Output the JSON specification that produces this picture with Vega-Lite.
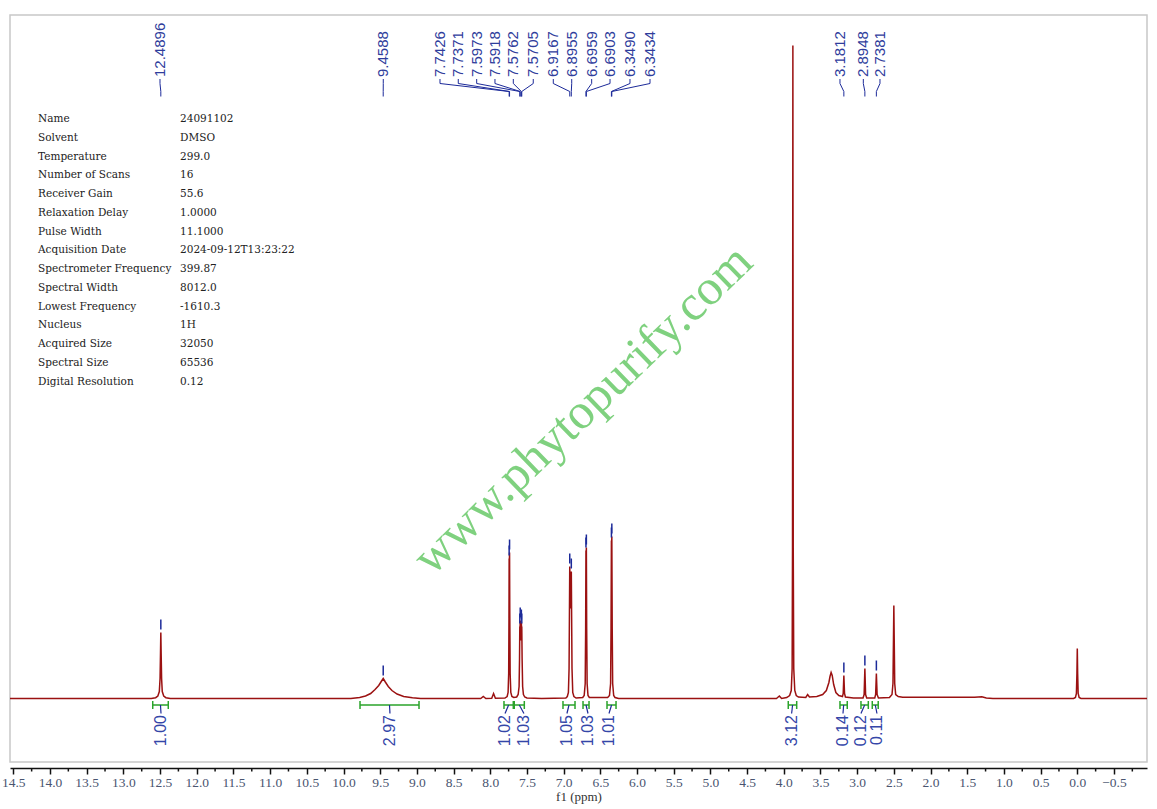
{
  "$schema": "https://vega.github.io/schema/vega-lite/v6.json",
  "width": 1137,
  "height": 747,
  "autosize": {"type": "none"},
  "padding": {"left": 10, "top": 15, "right": 10, "bottom": 47},
  "background": "white",
  "config": {
    "view": {"stroke": "#c8c8c8", "strokeWidth": 1.5},
    "axisX": {
      "format": ".1f",
      "offset": 6,
      "grid": false,
      "domainColor": "#111111", "domainWidth": 1.5,
      "tickColor": "#111111", "tickWidth": 1.5, "tickSize": 6,
      "labelFont": "Liberation Serif", "labelFontSize": 13.5, "labelColor": "#4a5570",
      "labelPadding": 1, "labelFlush": false, "labelOverlap": false, "labelBound": false,
      "titleFont": "Liberation Serif", "titleFontSize": 13,
      "titleFontWeight": "normal", "titleColor": "#333333", "titlePadding": 2
    }
  },
  "datasets": {
    "spec": [
      {"ppm": 14.545, "v": 0}, {"ppm": 12.62, "v": 0}, {"ppm": 12.56, "v": 0.8}, {"ppm": 12.53, "v": 2.5},
      {"ppm": 12.51, "v": 7}, {"ppm": 12.5, "v": 20}, {"ppm": 12.494, "v": 45}, {"ppm": 12.4896, "v": 66},
      {"ppm": 12.485, "v": 45}, {"ppm": 12.479, "v": 20}, {"ppm": 12.47, "v": 7}, {"ppm": 12.45, "v": 2.5},
      {"ppm": 12.42, "v": 0.8}, {"ppm": 12.36, "v": 0},
      {"ppm": 9.9, "v": 0}, {"ppm": 9.78, "v": 1}, {"ppm": 9.7, "v": 2.5}, {"ppm": 9.63, "v": 5},
      {"ppm": 9.57, "v": 9}, {"ppm": 9.52, "v": 13}, {"ppm": 9.49, "v": 16.5}, {"ppm": 9.4588, "v": 20},
      {"ppm": 9.43, "v": 16.5}, {"ppm": 9.39, "v": 12}, {"ppm": 9.34, "v": 8}, {"ppm": 9.27, "v": 4.5},
      {"ppm": 9.18, "v": 2}, {"ppm": 9.06, "v": 0.8}, {"ppm": 8.95, "v": 0},
      {"ppm": 8.13, "v": 0}, {"ppm": 8.095, "v": 2}, {"ppm": 8.06, "v": 0}, {"ppm": 7.98, "v": 0.3},
      {"ppm": 7.955, "v": 5}, {"ppm": 7.93, "v": 0.3},
      {"ppm": 7.8, "v": 0.5}, {"ppm": 7.77, "v": 2}, {"ppm": 7.757, "v": 6}, {"ppm": 7.749, "v": 25},
      {"ppm": 7.745, "v": 80}, {"ppm": 7.7426, "v": 140}, {"ppm": 7.74, "v": 134}, {"ppm": 7.7371, "v": 146},
      {"ppm": 7.734, "v": 85}, {"ppm": 7.729, "v": 25}, {"ppm": 7.72, "v": 6}, {"ppm": 7.705, "v": 2},
      {"ppm": 7.68, "v": 1}, {"ppm": 7.64, "v": 1.5}, {"ppm": 7.62, "v": 4}, {"ppm": 7.607, "v": 12},
      {"ppm": 7.601, "v": 40}, {"ppm": 7.5973, "v": 72}, {"ppm": 7.5945, "v": 70}, {"ppm": 7.5918, "v": 78},
      {"ppm": 7.584, "v": 58}, {"ppm": 7.5762, "v": 76}, {"ppm": 7.5733, "v": 70}, {"ppm": 7.5705, "v": 72},
      {"ppm": 7.566, "v": 40}, {"ppm": 7.559, "v": 12}, {"ppm": 7.548, "v": 4}, {"ppm": 7.53, "v": 1.5},
      {"ppm": 7.5, "v": 0.5}, {"ppm": 7.3, "v": 0},
      {"ppm": 6.97, "v": 0.5}, {"ppm": 6.95, "v": 2}, {"ppm": 6.935, "v": 6}, {"ppm": 6.926, "v": 30},
      {"ppm": 6.9167, "v": 132}, {"ppm": 6.906, "v": 90}, {"ppm": 6.8955, "v": 127}, {"ppm": 6.886, "v": 30},
      {"ppm": 6.876, "v": 6}, {"ppm": 6.86, "v": 2}, {"ppm": 6.83, "v": 0.5},
      {"ppm": 6.74, "v": 1}, {"ppm": 6.72, "v": 3}, {"ppm": 6.706, "v": 15}, {"ppm": 6.7, "v": 70},
      {"ppm": 6.6959, "v": 148}, {"ppm": 6.693, "v": 140}, {"ppm": 6.6903, "v": 151}, {"ppm": 6.686, "v": 70},
      {"ppm": 6.68, "v": 15}, {"ppm": 6.668, "v": 3}, {"ppm": 6.65, "v": 1},
      {"ppm": 6.4, "v": 1}, {"ppm": 6.375, "v": 3}, {"ppm": 6.36, "v": 15}, {"ppm": 6.354, "v": 70},
      {"ppm": 6.349, "v": 158}, {"ppm": 6.3462, "v": 150}, {"ppm": 6.3434, "v": 162}, {"ppm": 6.338, "v": 70},
      {"ppm": 6.332, "v": 15}, {"ppm": 6.318, "v": 3}, {"ppm": 6.3, "v": 1}, {"ppm": 6.25, "v": 0},
      {"ppm": 4.1, "v": 0}, {"ppm": 4.06, "v": 2.5}, {"ppm": 4.03, "v": 0},
      {"ppm": 3.96, "v": 1}, {"ppm": 3.92, "v": 3}, {"ppm": 3.898, "v": 8}, {"ppm": 3.886, "v": 30},
      {"ppm": 3.881, "v": 150}, {"ppm": 3.876, "v": 653}, {"ppm": 3.871, "v": 150}, {"ppm": 3.864, "v": 30},
      {"ppm": 3.85, "v": 8}, {"ppm": 3.83, "v": 3}, {"ppm": 3.8, "v": 1.5},
      {"ppm": 3.7, "v": 1}, {"ppm": 3.675, "v": 4}, {"ppm": 3.65, "v": 1.5},
      {"ppm": 3.55, "v": 2}, {"ppm": 3.47, "v": 4}, {"ppm": 3.42, "v": 8}, {"ppm": 3.385, "v": 16},
      {"ppm": 3.37, "v": 22}, {"ppm": 3.355, "v": 26}, {"ppm": 3.34, "v": 23}, {"ppm": 3.32, "v": 14},
      {"ppm": 3.29, "v": 6}, {"ppm": 3.25, "v": 3}, {"ppm": 3.2, "v": 2}, {"ppm": 3.19, "v": 5},
      {"ppm": 3.1812, "v": 23}, {"ppm": 3.172, "v": 5}, {"ppm": 3.16, "v": 1.5}, {"ppm": 3.05, "v": 0.5},
      {"ppm": 2.92, "v": 0.5}, {"ppm": 2.905, "v": 4}, {"ppm": 2.8948, "v": 30}, {"ppm": 2.885, "v": 4},
      {"ppm": 2.87, "v": 0.5}, {"ppm": 2.76, "v": 0.5}, {"ppm": 2.748, "v": 4}, {"ppm": 2.7381, "v": 25},
      {"ppm": 2.728, "v": 4}, {"ppm": 2.71, "v": 0.5},
      {"ppm": 2.56, "v": 1}, {"ppm": 2.525, "v": 4}, {"ppm": 2.512, "v": 15}, {"ppm": 2.505, "v": 60},
      {"ppm": 2.5, "v": 93}, {"ppm": 2.495, "v": 60}, {"ppm": 2.488, "v": 15}, {"ppm": 2.475, "v": 4},
      {"ppm": 2.44, "v": 2}, {"ppm": 2.38, "v": 1.2}, {"ppm": 1.4, "v": 1.2}, {"ppm": 1.3, "v": 1.8},
      {"ppm": 1.24, "v": 0.6}, {"ppm": 1.15, "v": 0},
      {"ppm": 0.05, "v": 0}, {"ppm": 0.025, "v": 1}, {"ppm": 0.012, "v": 5}, {"ppm": 0.005, "v": 25},
      {"ppm": 0.0, "v": 50}, {"ppm": -0.005, "v": 25}, {"ppm": -0.012, "v": 5}, {"ppm": -0.025, "v": 1},
      {"ppm": -0.05, "v": 0}, {"ppm": -0.95, "v": 0}
    ],
    "minor": [
      {"m": 14.25}, {"m": 13.75}, {"m": 13.25}, {"m": 12.75}, {"m": 12.25}, {"m": 11.75}, {"m": 11.25},
      {"m": 10.75}, {"m": 10.25}, {"m": 9.75}, {"m": 9.25}, {"m": 8.75}, {"m": 8.25}, {"m": 7.75},
      {"m": 7.25}, {"m": 6.75}, {"m": 6.25}, {"m": 5.75}, {"m": 5.25}, {"m": 4.75}, {"m": 4.25},
      {"m": 3.75}, {"m": 3.25}, {"m": 2.75}, {"m": 2.25}, {"m": 1.75}, {"m": 1.25}, {"m": 0.75},
      {"m": 0.25}, {"m": -0.25}, {"m": -0.75}
    ],
    "peaks": [
      {"t": "12.4896", "lx": 12.501, "px": 12.4896, "h": 66},
      {"t": "9.4588", "lx": 9.458, "px": 9.4588, "h": 20},
      {"t": "7.7426", "lx": 8.685, "px": 7.7426, "h": 140},
      {"t": "7.7371", "lx": 8.436, "px": 7.7371, "h": 146},
      {"t": "7.5973", "lx": 8.185, "px": 7.5973, "h": 72},
      {"t": "7.5918", "lx": 7.936, "px": 7.5918, "h": 78},
      {"t": "7.5762", "lx": 7.686, "px": 7.5762, "h": 76},
      {"t": "7.5705", "lx": 7.414, "px": 7.5705, "h": 72},
      {"t": "6.9167", "lx": 7.141, "px": 6.9167, "h": 132},
      {"t": "6.8955", "lx": 6.89, "px": 6.8955, "h": 127},
      {"t": "6.6959", "lx": 6.618, "px": 6.6959, "h": 148},
      {"t": "6.6903", "lx": 6.368, "px": 6.6903, "h": 151},
      {"t": "6.3490", "lx": 6.096, "px": 6.349, "h": 158},
      {"t": "6.3434", "lx": 5.823, "px": 6.3434, "h": 162},
      {"t": "3.1812", "lx": 3.234, "px": 3.1812, "h": 23},
      {"t": "2.8948", "lx": 2.916, "px": 2.8948, "h": 30},
      {"t": "2.7381", "lx": 2.689, "px": 2.7381, "h": 25}
    ],
    "ints": [
      {"lab": "1.00", "from": 12.6, "to": 12.388, "mid": 12.494, "lx": 12.487},
      {"lab": "2.97", "from": 9.775, "to": 8.971, "mid": 9.373, "lx": 9.367},
      {"lab": "1.02", "from": 7.813, "to": 7.686, "mid": 7.75, "lx": 7.799},
      {"lab": "1.03", "from": 7.673, "to": 7.536, "mid": 7.604, "lx": 7.541},
      {"lab": "1.05", "from": 7.009, "to": 6.845, "mid": 6.927, "lx": 6.955},
      {"lab": "1.03", "from": 6.736, "to": 6.654, "mid": 6.695, "lx": 6.668},
      {"lab": "1.01", "from": 6.409, "to": 6.286, "mid": 6.347, "lx": 6.382},
      {"lab": "3.12", "from": 3.939, "to": 3.824, "mid": 3.88, "lx": 3.893},
      {"lab": "0.14", "from": 3.234, "to": 3.135, "mid": 3.184, "lx": 3.193},
      {"lab": "0.12", "from": 2.948, "to": 2.848, "mid": 2.898, "lx": 2.948},
      {"lab": "0.11", "from": 2.794, "to": 2.713, "mid": 2.753, "lx": 2.73}
    ],
    "info": [
      {"i": 1, "k": "Name", "val": "24091102"},
      {"i": 2, "k": "Solvent", "val": "DMSO"},
      {"i": 3, "k": "Temperature", "val": "299.0"},
      {"i": 4, "k": "Number of Scans", "val": "16"},
      {"i": 5, "k": "Receiver Gain", "val": "55.6"},
      {"i": 6, "k": "Relaxation Delay", "val": "1.0000"},
      {"i": 7, "k": "Pulse Width", "val": "11.1000"},
      {"i": 8, "k": "Acquisition Date", "val": "2024-09-12T13:23:22"},
      {"i": 9, "k": "Spectrometer Frequency", "val": "399.87"},
      {"i": 10, "k": "Spectral Width", "val": "8012.0"},
      {"i": 11, "k": "Lowest Frequency", "val": "-1610.3"},
      {"i": 12, "k": "Nucleus", "val": "1H"},
      {"i": 13, "k": "Acquired Size", "val": "32050"},
      {"i": 14, "k": "Spectral Size", "val": "65536"},
      {"i": 15, "k": "Digital Resolution", "val": "0.12"}
    ]
  },
  "layer": [
    {
      "data": {"name": "spec"},
      "mark": {"type": "line", "color": "#9b1111", "strokeWidth": 1.5, "interpolate": "linear"},
      "encoding": {
        "x": {
          "field": "ppm", "type": "quantitative",
          "scale": {"domain": [-0.95, 14.545], "reverse": true, "nice": false, "zero": false},
          "axis": {"title": "f1 (ppm)"}
        },
        "y": {"field": "v", "type": "quantitative", "scale": {"domain": [-63.5, 683.5], "nice": false, "zero": false}, "axis": null}
      }
    },
    {
      "data": {"name": "minor"},
      "mark": {"type": "rule", "color": "#111111", "strokeWidth": 1.5},
      "encoding": {
        "x": {"field": "m", "type": "quantitative"},
        "y": {"datum": -69.5, "type": "quantitative"},
        "y2": {"datum": -73}
      }
    },
    {
      "data": {"values": [{"t": "www.phytopurify.com"}]},
      "mark": {"type": "text", "angle": 316, "align": "center", "baseline": "middle", "font": "Liberation Serif", "fontSize": 50, "fill": "#7fd17f"},
      "encoding": {
        "x": {"datum": 6.736, "type": "quantitative"},
        "y": {"datum": 288.5, "type": "quantitative"},
        "text": {"field": "t"}
      }
    },
    {
      "data": {"name": "peaks"},
      "mark": {"type": "rule", "color": "#1c2a99", "strokeWidth": 1.5, "yOffset": -3, "y2Offset": -13},
      "encoding": {
        "x": {"field": "px", "type": "quantitative"},
        "y": {"field": "h", "type": "quantitative"},
        "y2": {"field": "h"}
      }
    },
    {
      "data": {"name": "peaks"},
      "mark": {"type": "rule", "color": "#1c2a99", "strokeWidth": 1},
      "encoding": {
        "x": {"field": "lx", "type": "quantitative"},
        "y": {"datum": 619.5, "type": "quantitative"},
        "y2": {"datum": 615}
      }
    },
    {
      "data": {"name": "peaks"},
      "mark": {"type": "rule", "color": "#1c2a99", "strokeWidth": 1},
      "encoding": {
        "x": {"field": "lx", "type": "quantitative"},
        "x2": {"field": "px"},
        "y": {"datum": 615, "type": "quantitative"},
        "y2": {"datum": 607}
      }
    },
    {
      "data": {"name": "peaks"},
      "mark": {"type": "rule", "color": "#1c2a99", "strokeWidth": 1},
      "encoding": {
        "x": {"field": "px", "type": "quantitative"},
        "y": {"datum": 607, "type": "quantitative"},
        "y2": {"datum": 602}
      }
    },
    {
      "data": {"name": "peaks"},
      "mark": {"type": "text", "angle": 270, "align": "left", "baseline": "middle", "font": "Liberation Sans", "fontSize": 15, "fill": "#2f3d9c"},
      "encoding": {
        "x": {"field": "lx", "type": "quantitative"},
        "y": {"datum": 621.5, "type": "quantitative"},
        "text": {"field": "t"}
      }
    },
    {
      "data": {"name": "ints"},
      "mark": {"type": "rule", "color": "#2aa32a", "strokeWidth": 1.5},
      "encoding": {
        "x": {"field": "from", "type": "quantitative"},
        "x2": {"field": "to"},
        "y": {"datum": -6.5, "type": "quantitative"}
      }
    },
    {
      "data": {"name": "ints"},
      "mark": {"type": "rule", "color": "#2aa32a", "strokeWidth": 1.5},
      "encoding": {
        "x": {"field": "from", "type": "quantitative"},
        "y": {"datum": -2.5, "type": "quantitative"},
        "y2": {"datum": -10.5}
      }
    },
    {
      "data": {"name": "ints"},
      "mark": {"type": "rule", "color": "#2aa32a", "strokeWidth": 1.5},
      "encoding": {
        "x": {"field": "to", "type": "quantitative"},
        "y": {"datum": -2.5, "type": "quantitative"},
        "y2": {"datum": -10.5}
      }
    },
    {
      "data": {"name": "ints"},
      "mark": {"type": "rule", "color": "#1c2a99", "strokeWidth": 1.2},
      "encoding": {
        "x": {"field": "mid", "type": "quantitative"},
        "x2": {"field": "lx"},
        "y": {"datum": -6.5, "type": "quantitative"},
        "y2": {"datum": -15}
      }
    },
    {
      "data": {"name": "ints"},
      "mark": {"type": "text", "angle": 270, "align": "right", "baseline": "middle", "font": "Liberation Sans", "fontSize": 16, "fill": "#3446a8"},
      "encoding": {
        "x": {"field": "lx", "type": "quantitative"},
        "y": {"datum": -16.5, "type": "quantitative"},
        "text": {"field": "lab"}
      }
    },
    {
      "data": {"name": "info"},
      "mark": {"type": "text", "align": "left", "baseline": "middle", "font": "DejaVu Serif", "fontSize": 10.5, "fill": "#222222"},
      "encoding": {
        "x": {"datum": 14.163, "type": "quantitative"},
        "y": {"datum": 579.5, "type": "quantitative"},
        "yOffset": {"field": "i", "type": "quantitative", "scale": {"domain": [1, 15], "range": [0, 262.8]}},
        "text": {"field": "k"}
      }
    },
    {
      "data": {"name": "info"},
      "mark": {"type": "text", "align": "left", "baseline": "middle", "font": "DejaVu Serif", "fontSize": 10.5, "fill": "#222222"},
      "encoding": {
        "x": {"datum": 12.228, "type": "quantitative"},
        "y": {"datum": 579.5, "type": "quantitative"},
        "yOffset": {"field": "i", "type": "quantitative", "scale": {"domain": [1, 15], "range": [0, 262.8]}},
        "text": {"field": "val"}
      }
    }
  ]
}
